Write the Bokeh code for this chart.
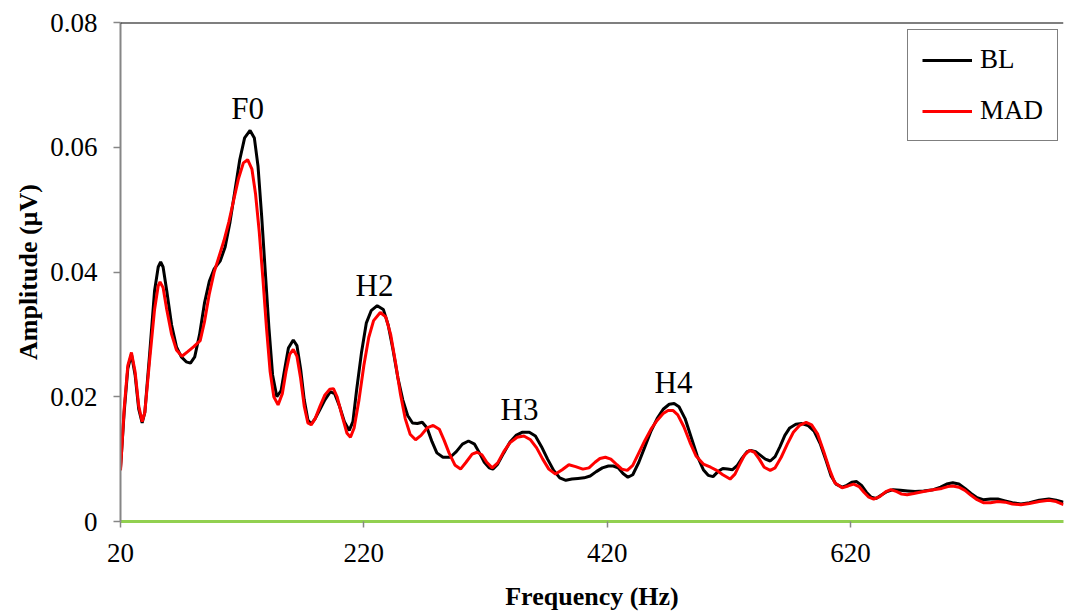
from bokeh.plotting import figure
from bokeh.models import FixedTicker, Span, Legend, LegendItem, ColumnDataSource, Range1d
from bokeh.core.properties import value
from bokeh.embed import file_html
from bokeh.resources import INLINE

bl_freq = [20, 23, 26, 29, 32, 35, 37.8, 40, 44, 48, 51, 53, 55, 58, 62, 66, 70, 74, 77.5, 81,
           85, 89, 93, 97, 102, 106, 110, 114, 118, 122, 126.5, 130, 133, 136, 139, 142, 145, 148.5, 152, 155,
           158, 162, 165, 168, 171, 174, 176.7, 180, 184, 188, 192.5, 196, 200, 204, 208, 211, 214, 218, 222, 226,
           231, 236, 240, 244, 248, 252, 256, 260, 264, 268, 272, 276, 280, 285, 291, 296, 301, 306, 311, 315,
           319, 323, 326, 330, 335, 340, 345, 350, 356, 361, 366, 371, 376, 381, 386, 391, 396, 401, 406, 411,
           416, 421, 425, 429, 433, 437, 441, 446, 451, 456, 461, 466, 471, 475, 479, 484, 489, 494, 499, 503,
           507, 511, 515, 519, 523, 527, 531, 535, 538, 542, 546, 550, 554, 558, 562, 566, 570, 575, 580, 585,
           590, 595, 600, 604, 608, 613, 617, 621, 625, 629, 633, 637, 641, 645, 650, 655, 661, 667, 673, 680,
           688, 694, 699, 704, 709, 714, 719, 724, 729, 735, 741, 747, 753, 760, 767, 775, 783, 789, 795]
bl_amp = [0.0085, 0.0175, 0.0245, 0.0268, 0.0235, 0.0180, 0.0158, 0.0175, 0.0270, 0.0370, 0.0408, 0.0416, 0.0408, 0.0370, 0.0315, 0.0280, 0.0264, 0.0256, 0.0254, 0.0264,
          0.0300, 0.0350, 0.0385, 0.0405, 0.0418, 0.0440, 0.0480, 0.0530, 0.0580, 0.0615, 0.0627, 0.0615, 0.0570, 0.0490, 0.0400, 0.0310, 0.0235, 0.0200, 0.0210, 0.0245,
          0.0278, 0.0291, 0.0282, 0.0245, 0.0195, 0.0163, 0.0156, 0.0165, 0.0180, 0.0195, 0.0208, 0.0205, 0.0185, 0.0160, 0.0146, 0.0160, 0.0210, 0.0270, 0.0318, 0.0338,
          0.0346, 0.0340, 0.0315, 0.0275, 0.0230, 0.0195, 0.0170, 0.0158, 0.0157, 0.0159, 0.0150, 0.0128, 0.0110, 0.0103, 0.0103, 0.0112, 0.0124, 0.0129, 0.0124, 0.0110,
          0.0095, 0.0086, 0.0084, 0.0092, 0.0110, 0.0127, 0.0138, 0.0143, 0.0143, 0.0137, 0.0120, 0.0100, 0.0082, 0.0070, 0.0066, 0.0068, 0.0069, 0.0070, 0.0073, 0.0080,
          0.0086, 0.0089, 0.0089, 0.0086, 0.0077, 0.0071, 0.0075, 0.0095, 0.0120, 0.0145, 0.0165, 0.0180, 0.0188, 0.0189, 0.0184, 0.0165, 0.0135, 0.0105, 0.0083, 0.0074,
          0.0072, 0.0080, 0.0085, 0.0084, 0.0083, 0.0090, 0.0102, 0.0112, 0.0114, 0.0112, 0.0106, 0.0100, 0.0097, 0.0104, 0.0120, 0.0138, 0.0150, 0.0156, 0.0157, 0.0154,
          0.0145, 0.0125, 0.0097, 0.0073, 0.0060, 0.0055, 0.0058, 0.0063, 0.0064, 0.0058, 0.0047, 0.0039, 0.0037, 0.0042, 0.0048, 0.0051, 0.0050, 0.0049, 0.0048, 0.0049,
          0.0051, 0.0055, 0.0060, 0.0062, 0.0060, 0.0053, 0.0045, 0.0038, 0.0035, 0.0036, 0.0036, 0.0033, 0.0030, 0.0028, 0.0030, 0.0034, 0.0036, 0.0034, 0.0031]

mad_freq = [20, 23, 26, 29, 32, 35, 37.8, 40, 44, 48, 51, 52.5, 55, 58, 62, 66, 70.5, 75, 80, 85.5,
            89, 93, 97, 101, 105, 109, 113, 117, 121, 124.5, 128, 131, 134, 137, 140, 143, 146, 149.5, 153, 156,
            159, 162, 165, 168, 171, 174, 176.7, 180, 184, 188, 192, 195, 198, 202, 206, 209, 212, 216, 220, 224,
            228, 233.5, 238, 242, 246, 250, 254, 258, 262.5, 267, 272, 277, 282, 286, 290, 295, 299.5, 304, 309, 313,
            317, 321, 325.5, 330, 335, 340, 346, 351.5, 357, 362, 367, 372, 377.5, 383, 388.5, 394, 400, 405, 410, 414,
            418.5, 423, 428, 432, 436.5, 441, 446, 451, 456, 461, 466, 470, 474, 478, 483, 488, 493, 499, 505, 510,
            515, 521, 525, 529, 533, 537, 541, 545, 549, 554, 558, 563, 568, 573, 578, 583.5, 588, 593, 598, 603,
            607, 613, 618, 622.5, 627, 631, 635, 639, 644, 649, 653, 658, 662, 666.5, 672, 680, 688, 695, 700, 704,
            709, 714, 719, 724, 729.5, 735, 741, 747, 753, 760, 767, 775, 783, 789, 795]
mad_amp = [0.0082, 0.0180, 0.0250, 0.0271, 0.0240, 0.0185, 0.0160, 0.0175, 0.0260, 0.0340, 0.0378, 0.0384, 0.0375, 0.0340, 0.0300, 0.0275, 0.0265, 0.0272, 0.0280, 0.0290,
           0.0320, 0.0365, 0.0400, 0.0425, 0.0450, 0.0480, 0.0515, 0.0550, 0.0575, 0.0580, 0.0565, 0.0525, 0.0465, 0.0390, 0.0310, 0.0240, 0.0200, 0.0187, 0.0205, 0.0240,
           0.0268, 0.0276, 0.0265, 0.0230, 0.0185, 0.0158, 0.0155, 0.0165, 0.0185, 0.0203, 0.0212, 0.0213, 0.0200, 0.0170, 0.0142, 0.0135, 0.0150, 0.0195, 0.0250, 0.0295,
           0.0322, 0.0335, 0.0328, 0.0300, 0.0255, 0.0205, 0.0165, 0.0140, 0.0131, 0.0138, 0.0150, 0.0154, 0.0148, 0.0130, 0.0110, 0.0090, 0.0084, 0.0095, 0.0108, 0.0111,
           0.0107, 0.0095, 0.0086, 0.0094, 0.0112, 0.0126, 0.0135, 0.0137, 0.0131, 0.0118, 0.0100, 0.0084, 0.0076, 0.0083, 0.0091, 0.0088, 0.0084, 0.0086, 0.0095, 0.0101,
           0.0103, 0.0100, 0.0091, 0.0084, 0.0082, 0.0090, 0.0110, 0.0130, 0.0148, 0.0162, 0.0173, 0.0178, 0.0178, 0.0171, 0.0152, 0.0127, 0.0105, 0.0092, 0.0087, 0.0082,
           0.0075, 0.0068, 0.0076, 0.0092, 0.0107, 0.0114, 0.0111, 0.0100, 0.0087, 0.0082, 0.0086, 0.0103, 0.0124, 0.0143, 0.0154, 0.0159, 0.0155, 0.0140, 0.0112, 0.0082,
           0.0062, 0.0054, 0.0057, 0.0060, 0.0056, 0.0047, 0.0039, 0.0036, 0.0040, 0.0048, 0.0051, 0.0048, 0.0044, 0.0043, 0.0045, 0.0048, 0.0051, 0.0053, 0.0056, 0.0057,
           0.0055, 0.0050, 0.0042, 0.0035, 0.0030, 0.0030, 0.0032, 0.0031, 0.0028, 0.0027, 0.0029, 0.0032, 0.0034, 0.0032, 0.0027]

peak_labels = ["F0", "H2", "H3", "H4"]
peak_label_freq = [124.4, 228.8, 347.9, 474.5]
peak_label_amp = [0.0662, 0.0379, 0.0180, 0.0223]

x_ticks = [20, 220, 420, 620]
y_ticks = [0, 0.02, 0.04, 0.06, 0.08]
y_tick_labels = ["0", "0.02", "0.04", "0.06", "0.08"]

SERIF = "Liberation Serif"

p = figure(frame_width=943, frame_height=499, min_border_left=120, min_border_right=2,
           min_border_top=22, min_border_bottom=90, output_backend="svg", toolbar_location=None,
           x_range=Range1d(20, 795), y_range=Range1d(0, 0.08))
p.outline_line_color = None
p.xgrid.visible = False
p.ygrid.visible = False
p.background_fill_color = "white"
p.border_fill_color = "white"

r_bl = p.line(bl_freq, bl_amp, line_color="black", line_width=3)
r_mad = p.line(mad_freq, mad_amp, line_color="#FF0000", line_width=3)

src = ColumnDataSource(dict(x=peak_label_freq, y=peak_label_amp, t=peak_labels))
p.text(x="x", y="y", text="t", source=src, text_align="center", text_baseline="middle",
       text_font=value(SERIF), text_font_size="31px", text_color="black")

p.add_layout(Span(location=0.08, dimension="width", line_color="black", line_width=2))

# x axis
xa = p.xaxis[0]
xa.ticker = FixedTicker(ticks=x_ticks)
xa.axis_line_color = "#92D050"
xa.axis_line_width = 3
xa.major_tick_line_color = "#868686"
xa.major_tick_line_width = 1.5
xa.major_tick_out = 6
xa.major_tick_in = 0
xa.minor_tick_line_color = None
xa.major_label_text_font = SERIF
xa.major_label_text_font_size = "27px"
xa.major_label_text_color = "black"
xa.major_label_standoff = 16
xa.axis_label = "Frequency (Hz)"
xa.axis_label_text_font = SERIF
xa.axis_label_text_font_size = "26px"
xa.axis_label_text_font_style = "bold"
xa.axis_label_text_color = "black"
xa.axis_label_standoff = 17

# y axis
ya = p.yaxis[0]
ya.ticker = FixedTicker(ticks=y_ticks)
ya.major_label_overrides = {t: l for t, l in zip(y_ticks, y_tick_labels)}
ya.axis_line_color = "#868686"
ya.axis_line_width = 2
ya.major_tick_line_color = "#868686"
ya.major_tick_line_width = 1.5
ya.major_tick_out = 7
ya.major_tick_in = 0
ya.minor_tick_line_color = None
ya.major_label_text_font = SERIF
ya.major_label_text_font_size = "27px"
ya.major_label_text_color = "black"
ya.major_label_standoff = 16
ya.axis_label = "Amplitude (µV)"
ya.axis_label_text_font = SERIF
ya.axis_label_text_font_size = "26px"
ya.axis_label_text_font_style = "bold"
ya.axis_label_text_color = "black"
ya.axis_label_standoff = 4

legend = Legend(items=[LegendItem(label="BL", renderers=[r_bl]),
                       LegendItem(label="MAD", renderers=[r_mad])],
                location=(787, 380))
legend.border_line_color = "black"
legend.border_line_width = 1.5
legend.background_fill_color = "white"
legend.background_fill_alpha = 1
legend.label_text_font = SERIF
legend.label_text_font_size = "27px"
legend.label_text_color = "black"
legend.glyph_width = 50
legend.glyph_height = 28
legend.label_height = 28
legend.label_standoff = 8
legend.spacing = 20
legend.padding = 14
legend.margin = 0
p.add_layout(legend)

open("out.html", "w").write(file_html(p, INLINE))
